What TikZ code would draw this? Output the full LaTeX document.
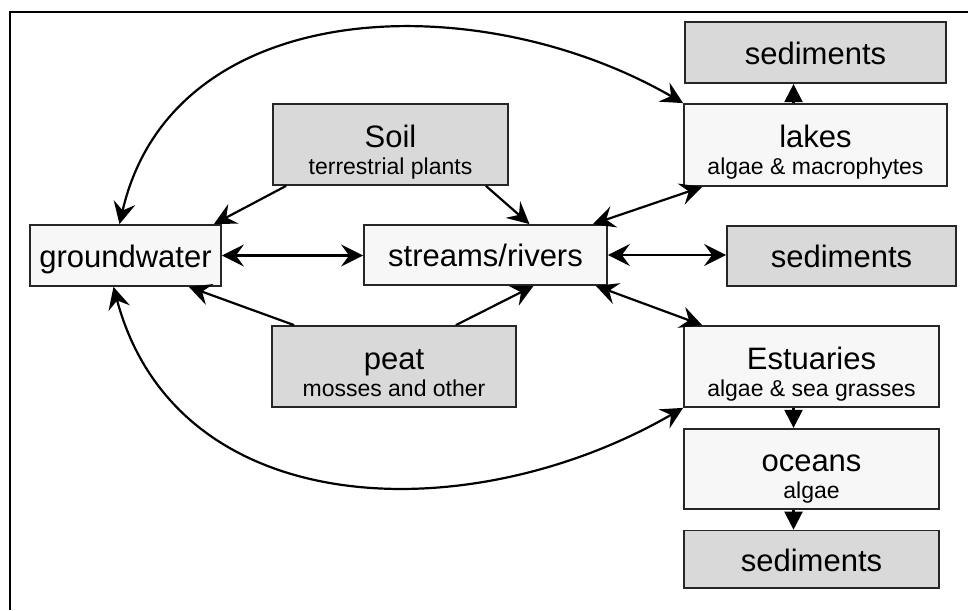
\documentclass[tikz,border=0pt]{standalone}
\usepackage{fontspec}
\setmainfont{Liberation Sans}
\usetikzlibrary{arrows.meta, positioning}

\newcommand{\subtxt}[1]{{\fontsize{11.5}{13.5}\selectfont #1}}

\begin{document}
\begin{tikzpicture}[x=0.5pt, y=0.5pt, node distance=10pt,
  >={Stealth[length=11pt, width=11pt, inset=4pt]},
  box/.style={draw=black!85, line width=0.9pt, fill=#1, inner sep=0pt,
    align=center, font=\fontsize{15.5}{13.5}\selectfont},
  box/.default=black!3,
  pool/.style={box=black!15},
  one/.style={text height=12pt, text depth=0pt},
  two/.style={text height=30pt, text depth=0pt},
  flow/.style={line width=1.1pt, ->},
  both/.style={line width=1.1pt, <->},
  drop/.style={line width=1.1pt, -{Triangle[length=9pt, width=9pt]}}]
\useasboundingbox (0,0) rectangle (968,610);
\draw[line width=1pt] (10,0) -- (10,598) -- (968,598);

\node[box, one, minimum width=95.5pt, minimum height=30.5pt] (gw) at (125.5,354.5) {groundwater};
\node[box, one, minimum width=121.5pt, minimum height=30pt] (rivers) at (485.5,355) {streams/rivers};
\node[pool, two, minimum width=117.5pt, minimum height=40.5pt] (soil) at (390.5,465.5) {Soil\\\subtxt{terrestrial plants}};
\node[pool, two, minimum width=122pt, minimum height=40.5pt] (peat) at (394,243.5) {peat\\\subtxt{mosses and other}};

\node[box, two, minimum width=131.5pt, minimum height=41pt] (lakes) at (815.5,465) {lakes\\\subtxt{algae \& macrophytes}};
\node[pool, one, minimum width=130.5pt, minimum height=30.5pt, above=9.5pt of lakes] (sedlake) {sediments};
\node[pool, one, minimum width=114.5pt, minimum height=30pt] (sedriver) at (841.5,354) {sediments};
\node[box, two, minimum width=127.5pt, minimum height=40.5pt] (est) at (811.5,243.5) {Estuaries\\\subtxt{algae \& sea grasses}};
\node[box, two, minimum width=127.5pt, minimum height=40pt, below=of est] (ocean) {oceans\\\subtxt{algae}};
\node[pool, one, minimum width=127.5pt, minimum height=28.5pt, below=of ocean] (sedsea) {sediments};

% flows into groundwater and rivers
\draw[both] (gw.east) -- (gw.east -| rivers.west);
\draw[flow] ([xshift=7pt]soil.south west) -- ([xshift=-4pt]gw.north east);
\draw[flow] ([xshift=-11.5pt]soil.south east) -- ([xshift=22pt]rivers.north);
\draw[flow] ([xshift=11.5pt]peat.north west) -- ([xshift=-16.5pt]gw.south east);
\draw[flow] ([xshift=-30.5pt]peat.north east) -- ([xshift=24pt]rivers.south);

% rivers to lakes, sediments, estuaries
\draw[both] ([xshift=-7.5pt]rivers.north east) -- ([xshift=9.5pt]lakes.south west);
\draw[both] (rivers.east) -- (rivers.east -| sedriver.west);
\draw[both] ([xshift=-6pt]rivers.south east) -- ([xshift=9.5pt]est.north west);

\draw[drop] ([xshift=-11pt]lakes.north) -- ([xshift=-11pt]lakes.north |- sedlake.south);
\draw[drop] ([xshift=-9pt]est.south) -- ([xshift=-9pt]est.south |- ocean.north);
\draw[drop] ([xshift=-9pt]ocean.south) -- ([xshift=-9pt]ocean.south |- sedsea.north);

% groundwater exchange with lakes and estuaries
\draw[both] ([xshift=-3pt]gw.north) to[out=77, in=150, looseness=1.05] (lakes.north west);
\draw[both] ([xshift=-6pt]gw.south) to[out=-75, in=-150, looseness=1.08] (est.south west);
\end{tikzpicture}
\end{document}
